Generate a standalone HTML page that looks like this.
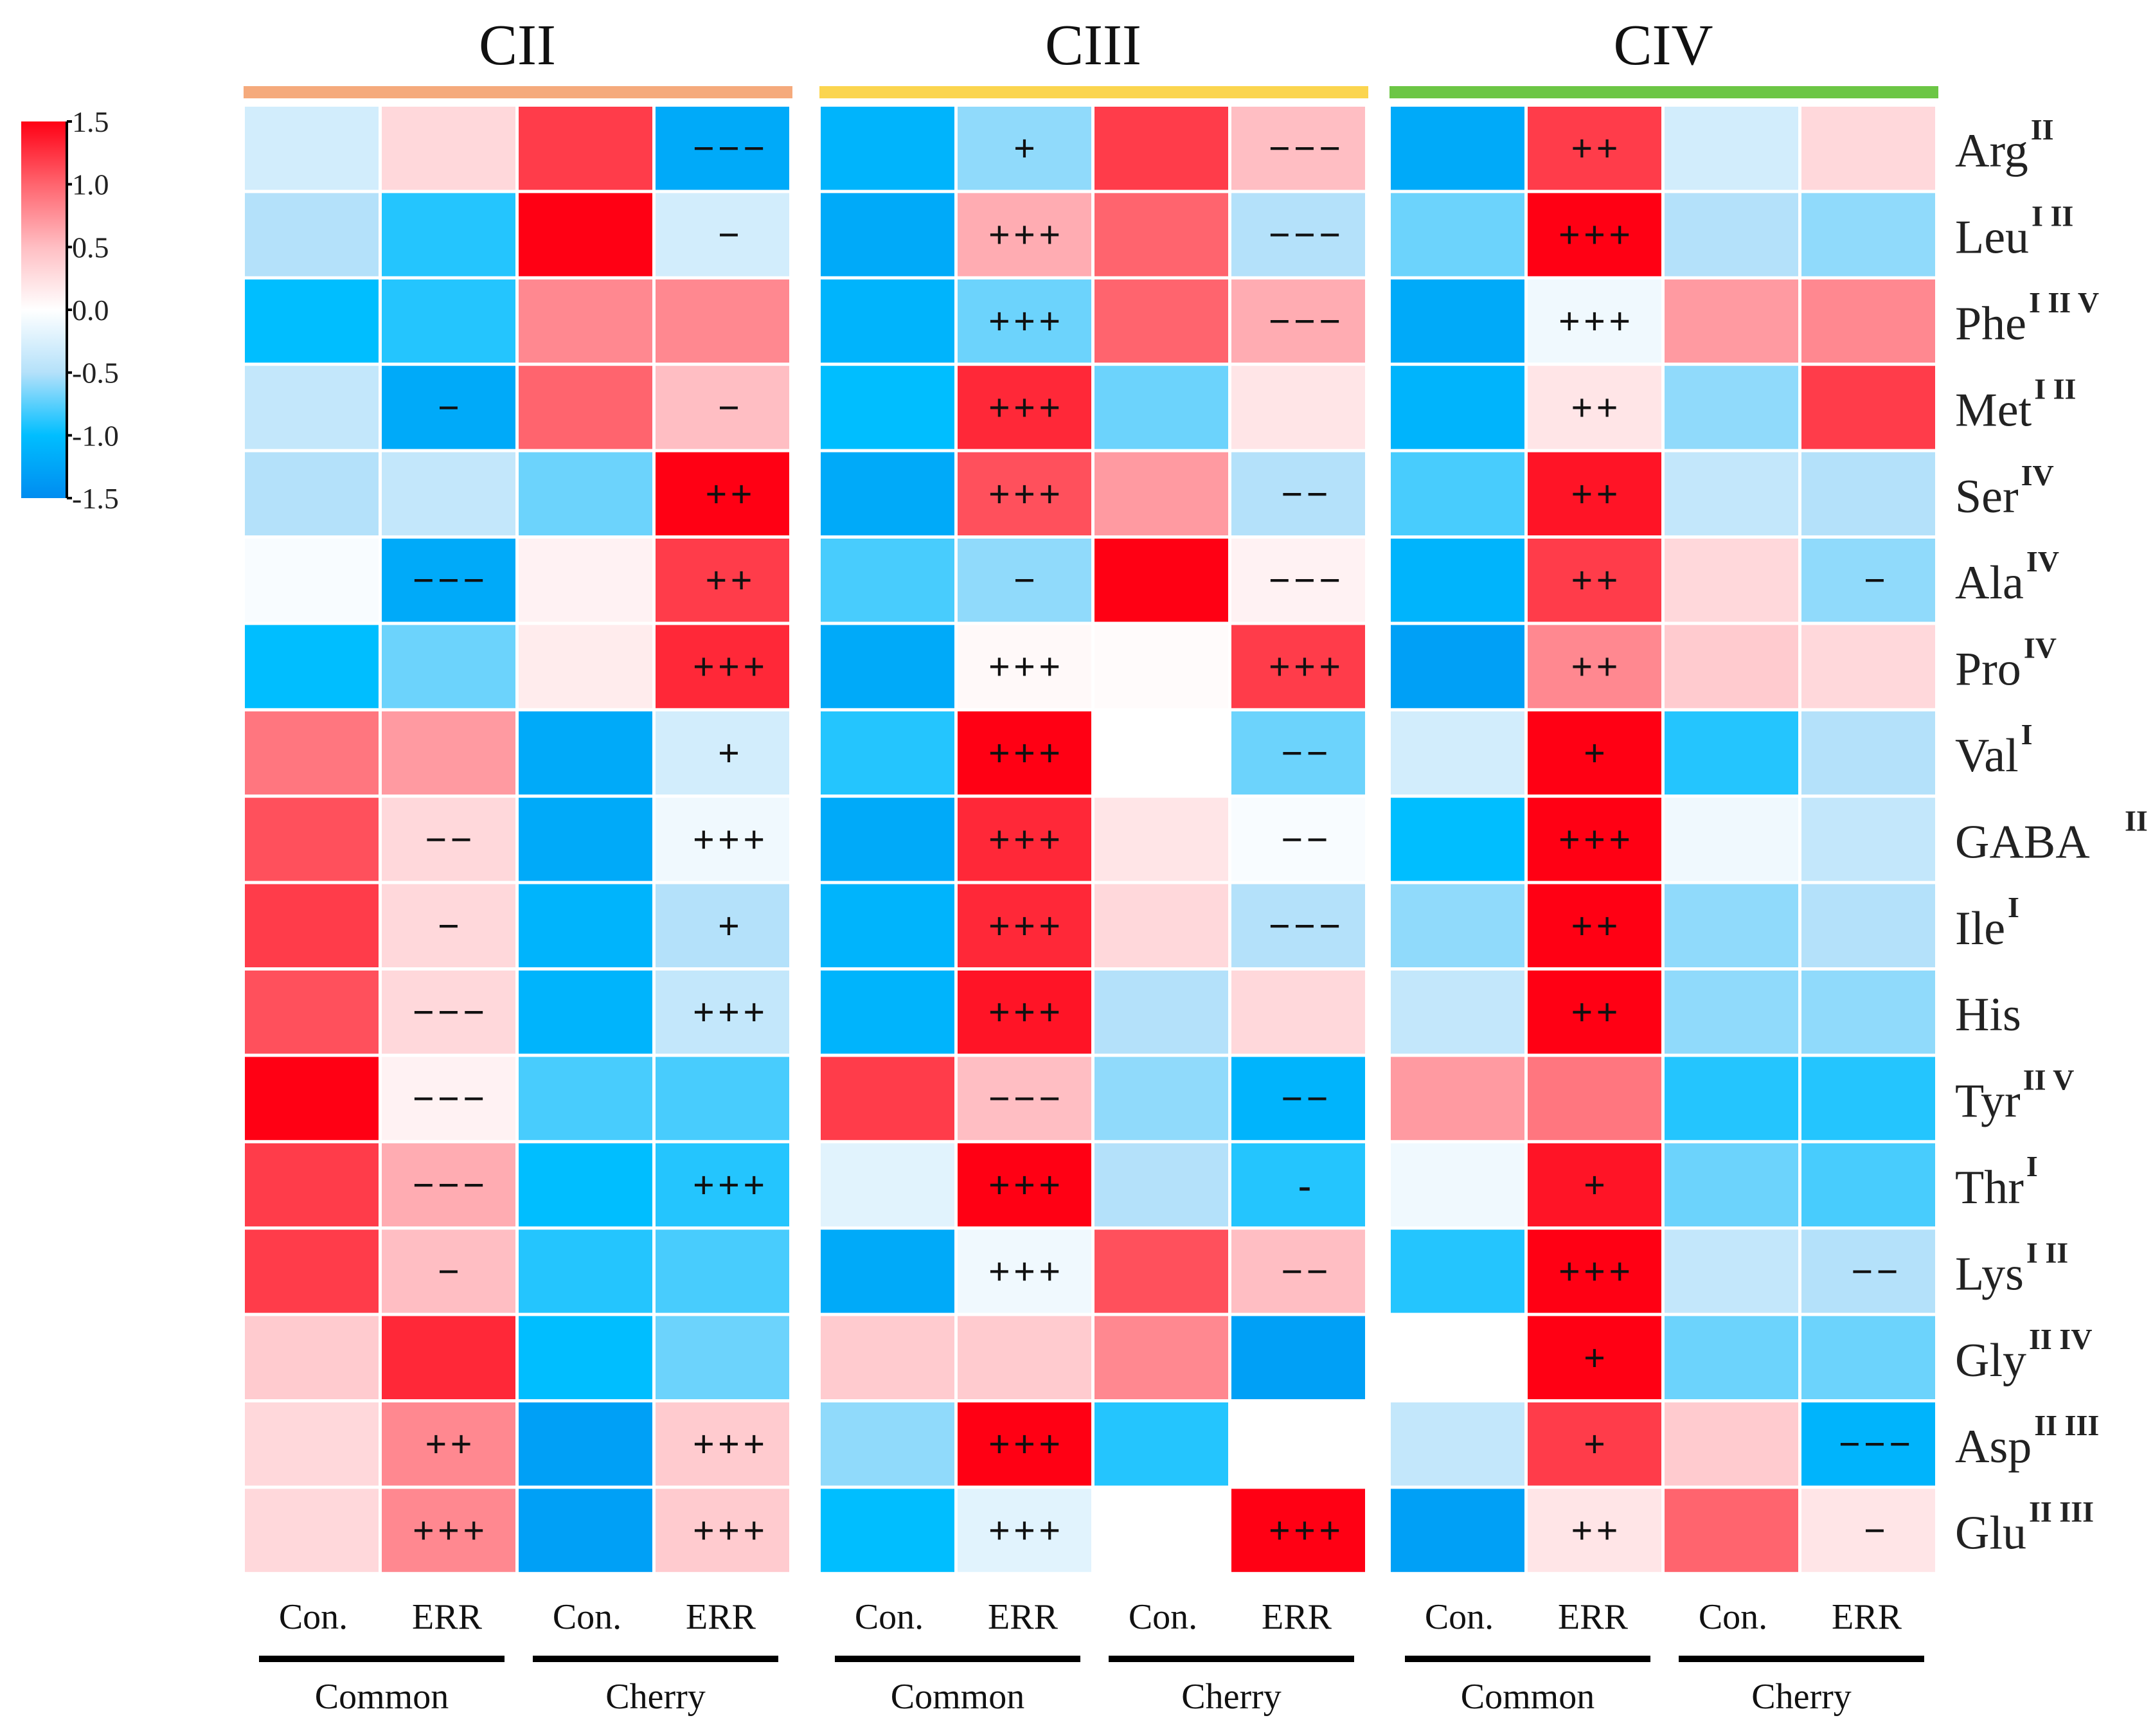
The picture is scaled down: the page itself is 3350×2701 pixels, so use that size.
<!DOCTYPE html>
<html><head><meta charset="utf-8"><style>
html,body{margin:0;padding:0;background:#fff;}
svg{display:block;}
text{font-family:"Liberation Serif",serif;}
</style></head><body>
<svg id="chart" width="3350" height="2701" viewBox="0 0 3350 2701" xmlns="http://www.w3.org/2000/svg">
<defs>
<linearGradient id="cbgrad" x1="0" y1="1" x2="0" y2="0">
<stop offset="0" stop-color="rgb(0,140,240)"/>
<stop offset="0.1667" stop-color="rgb(0,190,255)"/>
<stop offset="0.3333" stop-color="rgb(180,225,250)"/>
<stop offset="0.5" stop-color="rgb(255,255,255)"/>
<stop offset="0.6667" stop-color="rgb(255,190,195)"/>
<stop offset="0.8333" stop-color="rgb(255,100,110)"/>
<stop offset="1" stop-color="rgb(255,0,20)"/>
</linearGradient>
</defs>
<g id="colorbar">
<rect x="33" y="189" width="71" height="586" fill="url(#cbgrad)"/>
<line x1="104" y1="189" x2="104" y2="775" stroke="#000" stroke-width="4"/>
</g>
<g id="layer"></g>
</svg>
<script>
const rows = ["Arg","Leu","Phe","Met","Ser","Ala","Pro","Val","GABA","Ile","His","Tyr","Thr","Lys","Gly","Asp","Glu"];
const sups = ["II","I II","I II V","I II","IV","IV","IV","I","II","I","","II V","I","I II","II IV","II III","II III"];
const panels = ["CII","CIII","CIV"];
const panelColors = ["#f5aa7c","#fbd54f","#6cc645"];
const colLabels = ["Con.","ERR","Con.","ERR"];
const groupLabels = ["Common","Cherry"];
const cbTicks = [1.5,1.0,0.5,0.0,-0.5,-1.0,-1.5];
const values = [
[-0.3,0.3,1.2,-1.2, -1.1,-0.6,1.2,0.5, -1.2,1.2,-0.3,0.3],
[-0.5,-0.9,1.5,-0.3, -1.2,0.6,1.0,-0.5, -0.7,1.5,-0.5,-0.6],
[-1.0,-0.9,0.8,0.8, -1.1,-0.7,1.0,0.6, -1.2,-0.1,0.7,0.8],
[-0.4,-1.2,1.0,0.5, -1.0,1.3,-0.7,0.2, -1.1,0.2,-0.6,1.2],
[-0.5,-0.4,-0.7,1.5, -1.2,1.1,0.7,-0.5, -0.8,1.4,-0.4,-0.5],
[-0.05,-1.2,0.1,1.2, -0.8,-0.6,1.5,0.1, -1.1,1.2,0.3,-0.6],
[-1.0,-0.7,0.15,1.3, -1.2,0.05,0.03,1.2, -1.3,0.8,0.4,0.3],
[0.9,0.7,-1.2,-0.3, -0.9,1.5,0.0,-0.7, -0.3,1.5,-0.9,-0.5],
[1.1,0.3,-1.2,-0.1, -1.2,1.3,0.2,-0.05, -1.0,1.5,-0.1,-0.4],
[1.2,0.3,-1.1,-0.5, -1.1,1.3,0.3,-0.5, -0.6,1.5,-0.6,-0.5],
[1.1,0.3,-1.1,-0.4, -1.1,1.4,-0.5,0.3, -0.4,1.5,-0.6,-0.6],
[1.5,0.1,-0.8,-0.8, 1.2,0.5,-0.6,-1.1, 0.7,0.9,-0.9,-0.9],
[1.2,0.6,-1.0,-0.9, -0.2,1.5,-0.5,-0.9, -0.1,1.4,-0.7,-0.8],
[1.2,0.5,-0.9,-0.8, -1.2,-0.1,1.1,0.5, -0.9,1.5,-0.4,-0.5],
[0.4,1.3,-1.0,-0.7, 0.4,0.4,0.8,-1.3, 0.0,1.5,-0.7,-0.7],
[0.3,0.8,-1.3,0.4, -0.6,1.5,-0.9,0.0, -0.4,1.2,0.4,-1.1],
[0.3,0.8,-1.3,0.4, -1.0,-0.2,0.0,1.5, -1.3,0.2,1.0,0.2]
];
const marks = [
["","","","−−−", "","+","","−−−", "","++","",""],
["","","","−", "","+++","","−−−", "","+++","",""],
["","","","", "","+++","","−−−", "","+++","",""],
["","−","","−", "","+++","","", "","++","",""],
["","","","++", "","+++","","−−", "","++","",""],
["","−−−","","++", "","−","","−−−", "","++","","−"],
["","","","+++", "","+++","","+++", "","++","",""],
["","","","+", "","+++","","−−", "","+","",""],
["","−−","","+++", "","+++","","−−", "","+++","",""],
["","−","","+", "","+++","","−−−", "","++","",""],
["","−−−","","+++", "","+++","","", "","++","",""],
["","−−−","","", "","−−−","","−−", "","","",""],
["","−−−","","+++", "","+++","","-", "","+","",""],
["","−","","", "","+++","","−−", "","+++","","−−"],
["","","","", "","","","", "","+","",""],
["","++","","+++", "","+++","","", "","+","","−−−"],
["","+++","","+++", "","+++","","+++", "","++","","−"]
];

const NS="http://www.w3.org/2000/svg";
const layer=document.getElementById('layer');
const panelX=[381,1277,2164], colW=213, rowY0=166, rowH=134.4, vmin=-1.5, vmax=1.5;
const stops=[[-1.5,[0,140,240]],[-1.0,[0,190,255]],[-0.5,[180,225,250]],[0,[255,255,255]],[0.5,[255,190,195]],[1.0,[255,100,110]],[1.5,[255,0,20]]];
function color(v){v=Math.max(vmin,Math.min(vmax,v));for(let i=0;i<stops.length-1;i++){const a=stops[i],b=stops[i+1];if(v<=b[0]){const t=(v-a[0])/(b[0]-a[0]);const c=a[1].map((x,k)=>Math.round(x+(b[1][k]-x)*t));return `rgb(${c[0]},${c[1]},${c[2]})`;}}return 'rgb(255,0,20)';}
function xCol(c){return panelX[Math.floor(c/4)]+(c%4)*colW;}
function yRow(r){return rowY0+r*rowH;}
function cbY(v){return 189+(vmax-v)/(vmax-vmin)*586;}
function mk(tag,attrs,txt){const e=document.createElementNS(NS,tag);for(const k in attrs)e.setAttribute(k,attrs[k]);if(txt!==undefined)e.textContent=txt;layer.appendChild(e);return e;}

cbTicks.forEach(t=>{const y=cbY(t);
 const l=mk('line',{x1:104,y1:y,x2:112,y2:y,stroke:'#000','stroke-width':4});
 
 
 const tx=mk('text',{x:112,y:y+16,'font-size':46,'font-family':'Liberation Sans, sans-serif',fill:'#222'},t.toFixed(1));
 
 
});

panels.forEach((p,i)=>{
 const x0=panelX[i], x1=x0+4*colW-4;
 const t=mk('text',{x:(x0+x1)/2,y:100,'font-size':90,'text-anchor':'middle',fill:'#111'},p);
 
 
 const b=mk('rect',{x:x0-2,y:134,width:x1-x0+6,height:19,fill:panelColors[i]});
 
 
 colLabels.forEach((c,j)=>{
  const lt=mk('text',{x:x0+j*colW+colW/2+(j%2?-5:0),y:2534,'font-size':56,'text-anchor':'middle',fill:'#111'},c);
  
  
 });
 groupLabels.forEach((g,j)=>{
  const gx0=x0+j*2*colW+22, gx1=x0+(j+1)*2*colW-22;
  const ln=mk('rect',{x:gx0,y:2576,width:gx1-gx0,height:10,fill:'#000'});
  
  
  const gt=mk('text',{x:(gx0+gx1)/2,y:2658,'font-size':56,'text-anchor':'middle',fill:'#111'},g);
  
  
 });
});

values.forEach((row,r)=>{row.forEach((v,c)=>{
 const x=xCol(c), y=yRow(r);
 const cell=mk('rect',{x:x,y:y,width:colW-5,height:rowH-5,fill:color(v)});
 
 
 const m=marks[r][c];
 if(m){const t=mk('text',{x:x+colW/2+(c%4===3?10:0),y:y+rowH/2+18,'font-size':60,'font-weight':'bold','font-family':'Liberation Sans, sans-serif','text-anchor':'middle','letter-spacing':5,fill:'#111'},m);
  
  }
});});

rows.forEach((r,i)=>{
 const y=yRow(i)+rowH/2+26;
 const t=mk('text',{x:3042,y:y,'font-size':74,fill:'#222'},r);
 
 
 if(sups[i]){
  const w=t.getComputedTextLength();
  const sx = r==='GABA' ? 3306 : 3042+w+4;
  const s=mk('text',{x:sx,y:y-42,'font-size':46,'font-weight':'bold',fill:'#222'},sups[i]);
  
  
 }
});
</script>
</body></html>
